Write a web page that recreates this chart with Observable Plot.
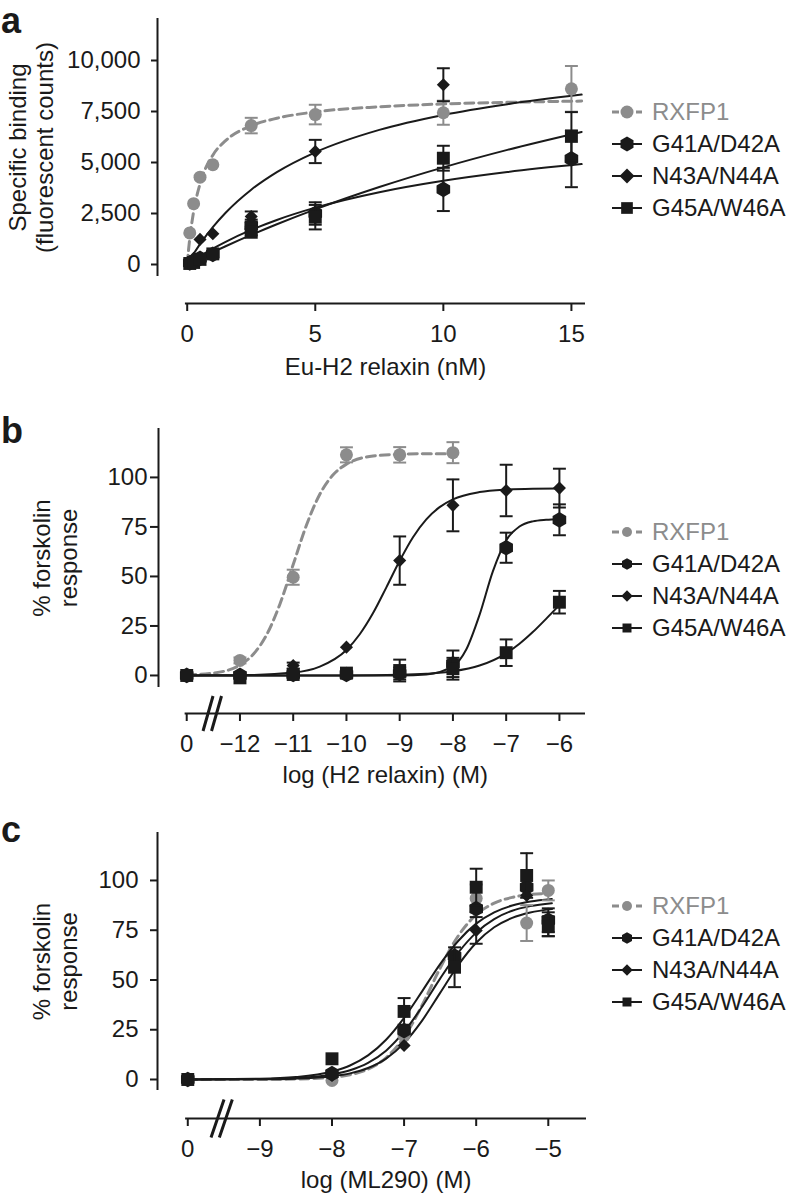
<!DOCTYPE html>
<html><head><meta charset="utf-8">
<script src="https://cdn.jsdelivr.net/npm/d3@7"></script>
<script src="https://cdn.jsdelivr.net/npm/@observablehq/plot@0.6"></script>
<style>
body{margin:0;background:#fff;font-family:"Liberation Sans",Arial,Helvetica,sans-serif;}
#root{position:relative;width:788px;height:1195px;overflow:hidden;}
.panel{position:absolute;left:0;width:788px;}
.panel svg{display:block;}
.letter{position:absolute;left:1px;font-weight:bold;font-size:36px;line-height:normal;color:#1a1a1a;}
.legend{position:absolute;left:611px;font-size:24px;}
.legend .row{display:flex;align-items:center;height:32px;line-height:32px;white-space:nowrap;}
</style></head><body><div id="root"></div>
<script>
const ink = "#1a1a1a", gray = "#8c8c8c";
const names = ["RXFP1", "G41A/D42A", "N43A/N44A", "G45A/W46A"];
const shapes = ["circle", "hexagon", "diamond2", "square"];
const radii = [6.5, 6.8, 5.9, 7.3];

// ---------- Panel a: saturation binding ----------
const aDose = [0.1, 0.25, 0.5, 1, 2.5, 5, 10, 15];
const aRXFP1 = [1550, 2980, 4280, 4890, 6810, 7350, 7440, 8610];
const aRXFP1Err = [0, 0, 0, 0, 380, 480, 590, 1120];
const aG41A = [80, 150, 300, 500, 1900, 2500, 3680, 5180];
const aG41AErr = [0, 0, 0, 0, 300, 550, 1060, 1390];
const aN43A = [100, 300, 1230, 1510, 2350, 5540, 8810, null];
const aN43AErr = [0, 0, 0, 0, 250, 570, 810, 0];
const aG45A = [50, 100, 250, 520, 1580, 2320, 5210, 6280];
const aG45AErr = [0, 0, 0, 0, 150, 600, 610, 1190];
const aFitDose = [0, 0.05, 0.1, 0.25, 0.5, 1, 1.5, 2.5, 3.5, 5, 7.5, 10, 12.5, 15.4];
const aFitRXFP1 = [0, 690, 1280, 2590, 3950, 5360, 6070, 6800, 7170, 7480, 7730, 7870, 7950, 8010];
const aFitG41A = [null, null, 86, 211, 411, 780, 1114, 1696, 2184, 2786, 3545, 4105, 4535, 4923];
const aFitN43A = [null, null, null, 524, 1000, 1833, 2538, 3667, 4529, 5500, 6600, 7333, 7857, 8330];
const aFitG45A = [null, null, 62, 155, 308, 606, 895, 1449, 1972, 2703, 3797, 4762, 5618, 6498];
const aYTicks = [0, 2500, 5000, 7500, 10000];
const aXTicks = [0, 5, 10, 15];

// ---------- Panel b: H2 relaxin cAMP ----------
const bDose = [-13, -12, -11, -10, -9, -8, -7, -6]; // -13 stands for "0"
const bRXFP1 = [0, 7.6, 49.6, 111.4, 111.4, 112.5, null, null];
const bRXFP1Err = [0, 1.5, 3.8, 3.8, 3.9, 5.3, 0, 0];
const bG41A = [0, 0, 0.5, 0.5, 1, 5.9, 64.5, 78.6];
const bG41AErr = [0, 0, 0, 0, 3, 6.7, 7.6, 7.8];
const bN43A = [0, 0, 5, 14.3, 58, 85.9, 93.4, 94.6];
const bN43AErr = [0, 0, 1.5, 0, 12.2, 13.1, 13, 9.8];
const bG45A = [0, -1.2, 0.5, 1.2, 2.5, 3.4, 11.5, 37];
const bG45AErr = [0, 0, 0, 0, 5.5, 5.5, 6.7, 5.7];
const bFitRXFP1Dose = [-13, -12.5, -12, -11.75, -11.5, -11.25, -11, -10.75, -10.5, -10.25, -10, -9.5, -9, -8.5, -8];
const bFitRXFP1 = [0.3, 1.2, 5.3, 10.7, 20.5, 36, 56, 76, 91.5, 101.3, 106.7, 110.8, 111.7, 112, 112];
const bFitN43ADose = [-13, -12, -11, -10.5, -10, -9.75, -9.5, -9.25, -9, -8.75, -8.5, -8.25, -8, -7.5, -7, -6.5, -6];
const bFitN43A = [0, 0.15, 1.5, 4.5, 12.9, 20.8, 31.5, 44.5, 57.9, 69.8, 78.8, 85, 88.9, 92.6, 93.9, 94.3, 94.4];
const bFitG41ADose = [-13, -10, -9, -8.5, -8, -7.75, -7.5, -7.25, -7, -6.75, -6.5, -6.25, -6];
const bFitG41A = [0, 0, 0.05, 0.5, 4.7, 13.1, 30.6, 52.6, 68.2, 75.2, 77.8, 78.6, 78.9];
const bFitG45ADose = [-13, -10, -9, -8.5, -8, -7.5, -7, -6.75, -6.5, -6.25, -6];
const bFitG45A = [0, 0.05, 0.34, 0.85, 2.1, 5.0, 11.2, 16.0, 21.9, 28.6, 35.5];
const bXTicks = [-13, -12, -11, -10, -9, -8, -7, -6];
const respTicks = [0, 25, 50, 75, 100];

// ---------- Panel c: ML290 cAMP ----------
const cDose = [-10, -8, -7, -6.3, -6, -5.3, -5]; // -10 stands for "0"
const cRXFP1 = [0, -0.5, 22, 60, 91, 78.6, 95];
const cRXFP1Err = [0, 0, 0, 0, 7, 9, 5];
const cG41A = [0, 2.9, 24.6, 62, 85.8, 96.6, 80];
const cG41AErr = [0, 0, 0, 0, 0, 0, 6];
const cN43A = [0, 2, 17.1, 60, 74.9, 92.5, 78];
const cN43AErr = [0, 0, 0, 0, 6.7, 0, 6];
const cG45A = [0, 10.4, 34.2, 56.4, 96.6, 102.5, 77];
const cG45AErr = [0, 0, 6.7, 10, 9.3, 11.2, 5];
const cFitDose = [-10, -9, -8.5, -8, -7.75, -7.5, -7.25, -7, -6.75, -6.5, -6.25, -6, -5.75, -5.5, -5.25, -4.95];
const cFitRXFP1Dose = [-10, -9, -8.5, -8, -7.75, -7.5, -7.25, -7, -6.75, -6.5, -6.25, -6, -5.75, -5.5, -5.25, -5];
const cFitRXFP1 = [0, 0.04, 0.22, 1.09, 2.4, 5.2, 10.9, 21.3, 37.3, 56, 72.1, 82.8, 88.6, 91.5, 92.9, 93.5];
const cFitG41A = [0.02, 0.21, 0.73, 2.52, 4.64, 8.36, 14.5, 24, 36.6, 50.7, 63.7, 73.8, 80.6, 84.8, 87.1, 88.6];
const cFitN43A = [0.01, 0.12, 0.43, 1.61, 3.07, 5.75, 10.5, 18.3, 29.6, 43.5, 57.4, 68.7, 76.5, 81.2, 83.9, 85.6];
const cFitG45A = [0.03, 0.37, 1.23, 3.99, 7.04, 12.1, 20, 31, 44.3, 58, 69.6, 78.3, 84, 87.4, 89.4, 90.7];
const cXTicks = [-10, -9, -8, -7, -6, -5];

// ---------- helpers ----------
const capSym = {draw(ctx, size) { const w = Math.sqrt(size) / 2; ctx.moveTo(-w, 0); ctx.lineTo(w, 0); }};
function breakSym(w, h, gap) {
  return {draw(ctx) { for (const o of [-gap / 2, gap / 2]) { ctx.moveTo(o - w / 2, h / 2); ctx.lineTo(o + w / 2, -h / 2); } }};
}
function pts(dose, mean, err) {
  return dose.map((x, i) => ({x, y: mean[i], e: err[i]})).filter(d => d.y != null);
}
function fitPts(dose, vals) {
  return dose.map((x, i) => ({x, y: vals[i]})).filter(d => d.y != null);
}
const minus = d => (d < 0 ? "\u2212" + Math.abs(d) : String(d));

function panel(cfg) {
  const marks = [];
  marks.push(Plot.ruleX([cfg.xDomain[0]], {y1: cfg.yLine[0], y2: cfg.yLine[1], stroke: ink, strokeWidth: 2}));
  marks.push(Plot.ruleY([cfg.yDomain[0]], {x1: cfg.xLine[0], x2: cfg.xLine[1], stroke: ink, strokeWidth: 2}));
  marks.push(Plot.axisY({ticks: cfg.yTicks, tickFormat: cfg.yFormat, tickSize: cfg.yTickSize, tickPadding: cfg.yPad,
    label: null, fontSize: 24, color: ink, strokeWidth: 2}));
  marks.push(Plot.axisX({ticks: cfg.xTicks, tickFormat: cfg.xFormat, tickSize: 8, tickPadding: 13,
    label: null, fontSize: 24, color: ink, strokeWidth: 2}));
  if (cfg.brk) marks.push(Plot.dot([cfg.brk.x], {x: d => d, y: cfg.yDomain[0], r: 1, symbol: breakSym(cfg.brk.w, cfg.brk.h, cfg.brk.gap), stroke: ink, strokeWidth: 3, fill: "none"}));
  marks.push(Plot.text([cfg.yTitle], {frameAnchor: "left", rotate: -90, textAnchor: "middle", lineAnchor: "middle",
    dx: cfg.yTitleDx, dy: cfg.yTitleDy, fontSize: 24, lineHeight: 1.12, fill: ink}));
  marks.push(Plot.text([cfg.xTitle], {x: (cfg.xLine[0] + cfg.xLine[1]) / 2, frameAnchor: "bottom", textAnchor: "middle",
    lineAnchor: "middle", dy: cfg.xTitleDy, fontSize: 24, fill: ink}));
  cfg.fits.forEach((f, s) => {
    const o = {x: "x", y: "y", curve: "monotone-x", stroke: s === 0 ? gray : ink, strokeWidth: s === 0 ? 3 : 2};
    if (s === 0) o.strokeDasharray = "9,5";
    marks.push(Plot.line(f, o));
  });
  cfg.points.forEach((p, s) => {
    const c = s === 0 ? gray : ink;
    const eb = p.filter(d => d.e > 0);
    marks.push(Plot.ruleX(eb, {x: "x", y1: d => d.y - d.e, y2: d => d.y + d.e, stroke: c, strokeWidth: 2}));
    marks.push(Plot.dot(eb, {x: "x", y: d => d.y - d.e, symbol: capSym, r: 7.3, stroke: c, strokeWidth: 2, fill: "none"}));
    marks.push(Plot.dot(eb, {x: "x", y: d => d.y + d.e, symbol: capSym, r: 7.3, stroke: c, strokeWidth: 2, fill: "none"}));
    marks.push(Plot.dot(p, {x: "x", y: "y", symbol: shapes[s], r: radii[s], fill: c, stroke: "none"}));
  });
  return Plot.plot({
    width: 788, height: cfg.height,
    marginTop: cfg.mt, marginBottom: cfg.mb, marginLeft: cfg.ml, marginRight: cfg.mr,
    x: {domain: cfg.xDomain}, y: {domain: cfg.yDomain},
    style: {fontFamily: '"Liberation Sans", Arial, Helvetica, sans-serif', fontSize: "24px", color: ink, background: "white", overflow: "visible"},
    marks
  });
}

function legendPath(s, r) {
  const p = d3.path();
  if (s === 0) p.arc(0, 0, r, 0, 2 * Math.PI);
  else if (s === 1) { const rx = r, ry = r * 1.1547, hy = ry / 2; p.moveTo(0, ry); p.lineTo(rx, hy); p.lineTo(rx, -hy); p.lineTo(0, -ry); p.lineTo(-rx, -hy); p.lineTo(-rx, hy); p.closePath(); }
  else if (s === 2) { const d = r * 1.15; p.moveTo(0, -d); p.lineTo(d, 0); p.lineTo(0, d); p.lineTo(-d, 0); p.closePath(); }
  else { const h = r * 0.9; p.rect(-h, -h, 2 * h, 2 * h); }
  return p.toString();
}
function legend(top, r) {
  const div = document.createElement("div");
  div.className = "legend"; div.style.top = top + "px";
  names.forEach((n, s) => {
    const c = s === 0 ? gray : ink;
    const row = document.createElement("div"); row.className = "row";
    const dash = s === 0 ? ' stroke-dasharray="7,5"' : "";
    row.innerHTML = `<svg width="34" height="24" style="flex:none"><line x1="1" x2="31" y1="12" y2="12" stroke="${c}" stroke-width="${s === 0 ? 3 : 2}"${dash}/><path transform="translate(16,12)" d="${legendPath(s, r)}" fill="${c}"/></svg><span style="margin-left:7px;color:${c}">${n}</span>`;
    div.appendChild(row);
  });
  return div;
}

const root = document.getElementById("root");
function place(el, top) {
  const d = document.createElement("div"); d.className = "panel"; d.style.top = top + "px";
  d.appendChild(el); root.appendChild(d);
}
function letter(t, top) {
  const d = document.createElement("div"); d.className = "letter"; d.style.top = top + "px"; d.textContent = t; root.appendChild(d);
}

place(panel({
  height: 395, mt: 18, mb: 92, ml: 157, mr: 203,
  xDomain: [-1.16, 15.55], yDomain: [-1912, 12059], yLine: [-590, 12059], xLine: [-0.07, 15.55],
  yTicks: aYTicks, yFormat: d3.format(","), yTickSize: 6, yPad: 11,
  xTicks: aXTicks, xFormat: d => String(d),
  yTitle: "Specific binding\n(fluorescent counts)", yTitleDx: -127, yTitleDy: -13.5,
  xTitle: "Eu-H2 relaxin (nM)", xTitleDy: 64,
  fits: [fitPts(aFitDose, aFitRXFP1), fitPts(aFitDose, aFitG41A), fitPts(aFitDose, aFitN43A), fitPts(aFitDose, aFitG45A)],
  points: [pts(aDose, aRXFP1, aRXFP1Err), pts(aDose, aG41A, aG41AErr), pts(aDose, aN43A, aN43AErr), pts(aDose, aG45A, aG45AErr)]
}), 0);

place(panel({
  height: 395, mt: 33, mb: 77, ml: 158, mr: 203,
  xDomain: [-13.53, -5.51], yDomain: [-19.2, 124.7], yLine: [-6.1, 124.7], xLine: [-13.03, -5.51],
  yTicks: respTicks, yFormat: d => String(d), yTickSize: 8, yPad: 3,
  xTicks: bXTicks, xFormat: d => (d === -13 ? "0" : minus(d)),
  brk: {x: -12.52, w: 10, h: 35, gap: 8.5},
  yTitle: "% forskolin\nresponse", yTitleDx: -103.5, yTitleDy: -13,
  xTitle: "log (H2 relaxin) (M)", xTitleDy: 62,
  fits: [fitPts(bFitRXFP1Dose, bFitRXFP1), fitPts(bFitG41ADose, bFitG41A), fitPts(bFitN43ADose, bFitN43A), fitPts(bFitG45ADose, bFitG45A)],
  points: [pts(bDose, bRXFP1, bRXFP1Err), pts(bDose, bG41A, bG41AErr), pts(bDose, bN43A, bN43AErr), pts(bDose, bG45A, bG45AErr)]
}), 395);

place(panel({
  height: 405, mt: 42, mb: 77, ml: 157, mr: 202,
  xDomain: [-10.42, -4.47], yDomain: [-19.6, 124.1], yLine: [-5.5, 124.1], xLine: [-10.03, -4.47],
  yTicks: respTicks, yFormat: d => String(d), yTickSize: 7, yPad: 12,
  xTicks: cXTicks, xFormat: d => (d === -10 ? "0" : minus(d)),
  brk: {x: -9.53, w: 13, h: 38, gap: 8.3},
  yTitle: "% forskolin\nresponse", yTitleDx: -102.5, yTitleDy: -14,
  xTitle: "log (ML290) (M)", xTitleDy: 62,
  fits: [fitPts(cFitRXFP1Dose, cFitRXFP1), fitPts(cFitDose, cFitG41A), fitPts(cFitDose, cFitN43A), fitPts(cFitDose, cFitG45A)],
  points: [pts(cDose, cRXFP1, cRXFP1Err), pts(cDose, cG41A, cG41AErr), pts(cDose, cN43A, cN43AErr), pts(cDose, cG45A, cG45AErr)]
}), 790);

root.appendChild(legend(96, 6.5));
root.appendChild(legend(516, 5));
root.appendChild(legend(890, 5));
letter("a", 0);
letter("b", 410);
letter("c", 809);
</script></body></html>
